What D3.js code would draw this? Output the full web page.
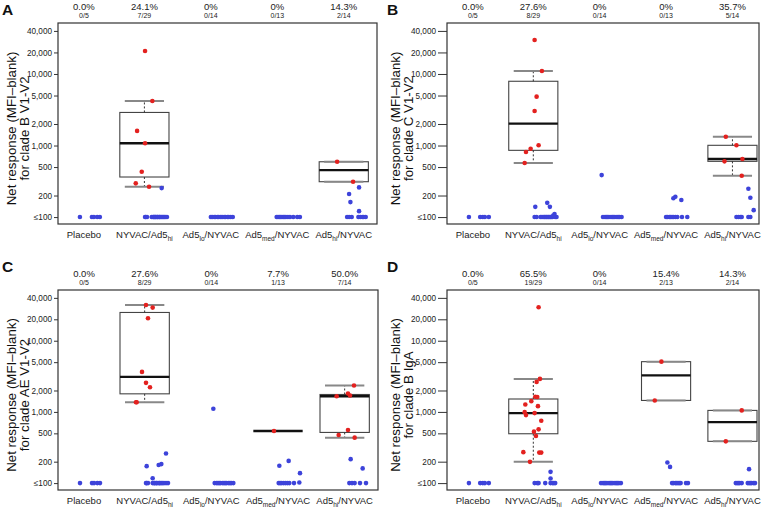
<!DOCTYPE html>
<html><head><meta charset="utf-8">
<script src="https://cdn.jsdelivr.net/npm/d3@7"></script>
<style>
body{margin:0;background:#fff}
svg text{font-family:"Liberation Sans",Arial,Helvetica,sans-serif}
</style>
</head><body>
<svg id="chart" width="768" height="508"></svg>
<script>
// ---------- data ----------
const groups = [["Placebo",""],["NYVAC/Ad5","hi",""],["Ad5","lo","/NYVAC"],["Ad5","med","/NYVAC"],["Ad5","hi","/NYVAC"]];
const yTickValues = [100,200,500,1000,2000,5000,10000,20000,40000];
const yTickLabels = ["≤100","200","500","1,000","2,000","5,000","10,000","20,000","40,000"];
const yTitles = ["for clade B V1-V2","for clade C V1-V2","for clade AE V1-V2","for clade B IgA"];
const yTitleMain = "Net response (MFI–blank)";

const pctA = ["0.0%","24.1%","0%","0%","14.3%"];
const fracA = ["0/5","7/29","0/14","0/13","2/14"];
const pctB = ["0.0%","27.6%","0%","0%","35.7%"];
const fracB = ["0/5","8/29","0/14","0/13","5/14"];
const pctC = ["0.0%","27.6%","0%","7.7%","50.0%"];
const fracC = ["0/5","8/29","0/14","1/13","7/14"];
const pctD = ["0.0%","65.5%","0%","15.4%","14.3%"];
const fracD = ["0/5","19/29","0/14","2/13","2/14"];

// responders (red): [value, x-jitter in category units]
const redA = [
  [],
  [[21000,.01],[4200,.12],[1600,-.11],[1075,.01],[430,-.04],[296,-.13],[265,.07]],
  [],
  [],
  [[593,-.1],[312,.14]]
];
const redB = [
  [],
  [[29900,.02],[11000,.13],[4820,.05],[3040,.02],[1007,.08],[902,-.04],[811,-.11],[569,-.13]],
  [],
  [],
  [[1327,-.1],[1007,.06],[647,.15],[601,-.12],[378,.14]]
];
const redC = [
  [],
  [[31800,.02],[29200,.12],[20700,.05],[3650,-.04],[2560,.02],[2220,.08],[1370,-.12],[1370,-.13]],
  [],
  [[540,-.06]],
  [[2350,.14],[1815,.05],[1700,.08],[1663,-.12],[556,.05],[474,-.09],[435,.15]]
];
const redD = [
  [],
  [[29600,.08],[2910,.1],[2640,.05],[1633,.03],[1620,.06],[1417,-.03],[1273,-.12],[1205,.07],[993,-.13],[962,.02],
   [902,-.11],[753,.12],[569,.08],[528,.01],[459,.04],[272,-.15],[268,.09],[268,.12],[199,-.05]],
  [],
  [[5080,-.07],[1449,-.17]],
  [[1050,.14],[386,-.1]]
];

// non-responders above the floor (blue): [value, x-jitter]
const blueA = [
  [],
  [[254,.26]],
  [],
  [],
  [[260,.23],[210,.08],[162,.1],[121,.23]]
];
const blueB = [
  [],
  [[139,.03],[158,.21],[139,.25],[110,.32],[105,.3]],
  [[386,.03]],
  [[183,.11],[192,.14],[173,.23]],
  [[249,.24],[186,.27],[125,.32]]
];
const blueC = [
  [],
  [[260,.32],[173,.03],[180,.21],[185,.25],[117,.12]],
  [[1110,.03]],
  [[175,.02],[205,.16],[138,.33],[102,.32]],
  [[217,.09],[161,.27]]
];
const blueD = [
  [],
  [[144,.26],[116,.26]],
  [],
  [[195,.02],[169,.06]],
  [[157,.25]]
];

// non-responders at the floor (≤100): x-jitters
const floorA = [
  [-.06,.12,.15,.2,.24],
  [.01,.02,.04,.11,.13,.14,.15,.16,.17,.18,.2,.2,.22,.23,.24,.26,.27,.29,.3,.32,.34],
  [0,.02,.05,.07,.1,.12,.15,.17,.2,.22,.25,.27,.3,.33],
  [-.01,.01,.03,.05,.07,.09,.11,.13,.16,.19,.24,.3,.34],
  [.05,.08,.12,.22,.25,.28,.3,.33]
];
const floorB = [
  [-.06,.11,.15,.18,.24],
  [.02,.05,.11,.13,.15,.17,.18,.2,.21,.23,.24,.26,.27,.29,.33,.35],
  [.05,.08,.1,.12,.14,.17,.19,.21,.23,.26,.28,.3,.33],
  [0,.02,.05,.07,.09,.11,.14,.17,.24,.32],
  [.06,.09,.12,.14,.24,.27]
];
const floorC = [
  [-.06,.12,.15,.2,.24],
  [.02,.03,.05,.12,.14,.15,.17,.18,.2,.22,.23,.25,.27,.29,.32,.35],
  [.05,.08,.1,.12,.14,.17,.19,.21,.23,.26,.28,.3,.33],
  [.01,.03,.05,.08,.11,.14,.17,.24],
  [.07,.11,.15,.23,.32]
];
const floorD = [
  [-.06,.11,.15,.18,.24],
  [.02,.06,.08,.18,.26,.29,.31,.33],
  [.02,.05,.07,.09,.11,.14,.16,.18,.2,.23,.25,.27,.29,.32],
  [.09,.11,.14,.16,.18,.2,.22,.3,.33],
  [.05,.07,.09,.11,.14,.23,.25,.27,.29,.32,.34]
];

// ---------- layout ----------
const catPos = [1.09,2,3,4,5];
const panels = [
  {letter:"A", lx:2,   ly:15,  left:58,  right:377, top:23,  bottom:224, xd:[0.7,5.5], tick:4, tx:16,  title:yTitles[0], pct:pctA, frac:fracA, red:redA, blue:blueA, floor:floorA},
  {letter:"B", lx:387, ly:15,  left:447, right:759, top:23,  bottom:224, xd:[0.7,5.4], tick:9, tx:400, title:yTitles[1], pct:pctB, frac:fracB, red:redB, blue:blueB, floor:floorB},
  {letter:"C", lx:2,   ly:272, left:58,  right:378, top:290, bottom:490, xd:[0.7,5.5], tick:4, tx:16,  title:yTitles[2], pct:pctC, frac:fracC, red:redC, blue:blueC, floor:floorC},
  {letter:"D", lx:387, ly:272, left:447, right:759, top:290, bottom:490, xd:[0.7,5.4], tick:9, tx:400, title:yTitles[3], pct:pctD, frac:fracD, red:redD, blue:blueD, floor:floorD}
];
const RED = "#e3211f", BLUE = "#3d43da";
const boxW = 0.74, capW = 0.59, R = 2.3;

function fivenum(v){
  const s = v.slice().sort((a,b)=>a-b), n = s.length;
  const n4 = Math.floor((n+3)/2)/2;
  return [1,n4,(n+1)/2,n+1-n4,n].map(d => 0.5*(s[Math.floor(d)-1]+s[Math.ceil(d)-1]));
}
function boxStats(v){
  const f = fivenum(v), iqr = f[3]-f[1];
  const hi = d3.max(v.filter(d => d <= f[3]+1.5*iqr));
  const lo = d3.min(v.filter(d => d >= f[1]-1.5*iqr));
  return {q1:f[1], med:f[2], q3:f[3], lo, hi};
}

const svg = d3.select("#chart");

panels.forEach(p => {
  const g = svg.append("g");
  const x = d3.scaleLinear().domain(p.xd).range([p.left,p.right]);
  const y = d3.scaleLog().domain([80,51600]).range([p.bottom,p.top]);
  const cx = i => x(catPos[i]);

  // panel letter
  g.append("text").attr("x",p.lx).attr("y",p.ly).attr("font-size",15.5).attr("font-weight","bold").attr("fill","#111").text(p.letter);

  // top labels
  p.pct.forEach((t,i) => {
    g.append("text").attr("x",cx(i)).attr("y",p.top-13).attr("text-anchor","middle").attr("font-size",9.5).attr("fill","#222").text(t);
    g.append("text").attr("x",cx(i)).attr("y",p.top-5.5).attr("text-anchor","middle").attr("font-size",7).attr("fill","#222").text(p.frac[i]);
  });

  // y axis
  const ax = d3.axisLeft(y).tickValues(yTickValues).tickFormat((d,i)=>yTickLabels[i]).tickSize(p.tick).tickPadding(2);
  const ag = g.append("g").attr("transform",`translate(${p.left},0)`).call(ax);
  ag.select(".domain").remove();
  ag.selectAll(".tick line").attr("stroke","#333");
  ag.selectAll(".tick text").attr("font-size",8.2).attr("fill","#222").attr("font-family","Liberation Sans, Arial, sans-serif");

  // y title
  const ym = (p.top+p.bottom)/2 + 5;
  g.append("text").attr("transform",`translate(${p.tx},${ym}) rotate(-90)`).attr("text-anchor","middle").attr("font-size",13.3).attr("fill","#111").text(yTitleMain);
  g.append("text").attr("transform",`translate(${p.tx+13},${ym}) rotate(-90)`).attr("text-anchor","middle").attr("font-size",13.3).attr("fill","#111").text(p.title);

  // bottom category labels
  groups.forEach((gr,i) => {
    const t = g.append("text").attr("x",cx(i)).attr("y",p.bottom+14).attr("text-anchor","middle").attr("font-size",9.5).attr("fill","#222");
    t.append("tspan").text(gr[0]);
    if (gr.length > 2) {
      t.append("tspan").attr("font-size",6.5).attr("dy",2.5).text(gr[1]);
      t.append("tspan").attr("dy",-2.5).text(gr[2]);
    }
  });

  // frame
  g.append("rect").attr("x",p.left).attr("y",p.top).attr("width",p.right-p.left).attr("height",p.bottom-p.top)
    .attr("fill","none").attr("stroke","#333").attr("stroke-width",1.2);

  // boxes from responders
  p.red.forEach((pts,i) => {
    if (!pts.length) return;
    const s = boxStats(pts.map(d=>d[0]));
    const c = catPos[i];
    const bl = x(c-boxW/2), br = x(c+boxW/2), cl = x(c-capW/2), cr = x(c+capW/2);
    g.append("rect").attr("x",bl).attr("y",y(s.q3)).attr("width",br-bl).attr("height",Math.max(0,y(s.q1)-y(s.q3)))
      .attr("fill","none").attr("stroke","#444").attr("stroke-width",1.1);
    [[s.q3,s.hi],[s.q1,s.lo]].forEach(([a,b]) => {
      if (a !== b) g.append("line").attr("x1",cx(i)).attr("x2",cx(i)).attr("y1",y(a)).attr("y2",y(b))
        .attr("stroke","#333").attr("stroke-width",1).attr("stroke-dasharray","2,2");
    });
    [s.hi,s.lo].forEach(v => g.append("line").attr("x1",cl).attr("x2",cr).attr("y1",y(v)).attr("y2",y(v))
      .attr("stroke","#888").attr("stroke-width",2));
    g.append("line").attr("x1",bl).attr("x2",br).attr("y1",y(s.med)).attr("y2",y(s.med))
      .attr("stroke","#111").attr("stroke-width",2.4);
  });

  // points
  p.floor.forEach((js,i) => js.forEach(j => g.append("circle").attr("cx",x(catPos[i]+j)).attr("cy",y(100)).attr("r",R).attr("fill",BLUE)));
  p.blue.forEach((pts,i) => pts.forEach(([v,j]) => g.append("circle").attr("cx",x(catPos[i]+j)).attr("cy",y(v)).attr("r",R).attr("fill",BLUE)));
  p.red.forEach((pts,i) => pts.forEach(([v,j]) => g.append("circle").attr("cx",x(catPos[i]+j)).attr("cy",y(v)).attr("r",R).attr("fill",RED)));
});
</script>
</body></html>
